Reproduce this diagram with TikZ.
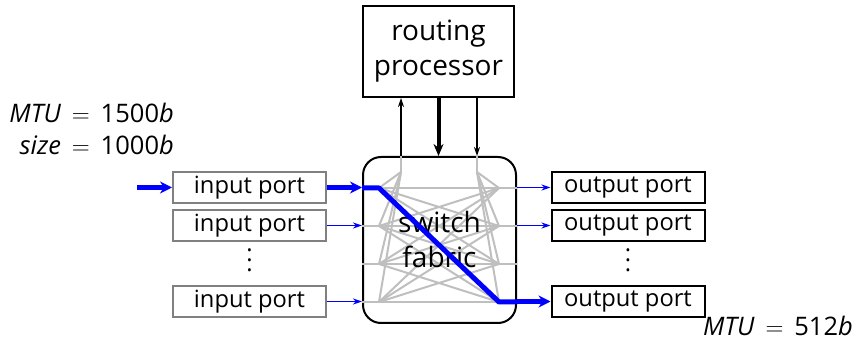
\documentclass[tikz,border=0pt]{standalone}
\usepackage{fontspec}
\setmainfont{Open Sans}
\usetikzlibrary{arrows.meta}

\begin{document}
\begin{tikzpicture}[x=1pt,y=1pt,
    inport/.style={draw=gray,line width=2pt,minimum width=153pt,minimum height=31pt,inner sep=0pt,font=\fontsize{23.7}{28}\selectfont},
    outport/.style={inport,draw=black},
    bigbox/.style={draw,line width=2pt,inner sep=0pt,font=\fontsize{28}{35}\selectfont,align=center},
    mesh/.style={gray!50,line width=2pt},
    vdotsnode/.style={font=\fontsize{23.7}{10}\selectfont,align=center,inner sep=0pt},
    thinblue/.style={blue,line width=1.5pt,-{Stealth[length=9pt,width=6pt]}},
    thickblue/.style={blue,line width=5pt,-{Stealth[length=12pt,width=12pt]}},
    ctrl/.style={line width=1.5pt,-{Stealth[length=9pt,width=6pt]}},
    mtu/.style={font=\fontsize{25.5}{32}\selectfont,inner sep=0pt}]
  \useasboundingbox (0,0) rectangle (856,342);
  % boxes
  \node[bigbox,minimum width=151pt,minimum height=91pt] (proc) at (438.5,290.5) {routing\\processor};
  \node[bigbox,rounded corners=18pt,minimum width=153pt,minimum height=166pt] (fab) at (439.5,102) {};
  \node[inport] (in1) at (249.5,154.5) {input port};
  \node[inport] (in2) at (249.5,116.5) {input port};
  \node[inport] (in4) at (249.5,40.5) {input port};
  \node[vdotsnode] (indots) at (249.5,82) {.\\.\\.};
  \node[outport] (out1) at (628,154.5) {output port};
  \node[outport] (out2) at (628,116.5) {output port};
  \node[outport] (out4) at (628,40.5) {output port};
  \node[vdotsnode] (outdots) at (628,82) {.\\.\\.};
  % inside the fabric
  \coordinate (t1) at (401,170);
  \coordinate (t2) at (477,170);
  \foreach \i/\y in {1/154,2/116,3/78,4/40} {
    \coordinate (l\i) at (379,\y);
    \coordinate (r\i) at (499,\y);
  }
  \draw[mesh] (t1) -- (fab.north -| t1);
  \draw[mesh] (t2) -- (fab.north -| t2);
  \foreach \i in {1,...,4} {
    \draw[mesh] (fab.west |- l\i) -- (l\i);
    \draw[mesh] (r\i) -- (fab.east |- r\i);
    \draw[mesh] (t1) -- (l\i);
    \draw[mesh] (t2) -- (r\i);
    \foreach \j in {1,...,4}
      \draw[mesh] (l\i) -- (r\j);
  }
  \node[font=\fontsize{28}{35}\selectfont,align=center] (fablabel) at (fab) {switch\\fabric};
  \draw[blue,line width=5pt,line join=round] (fab.west |- l1) -- (l1) -- (r4) -- (fab.east |- r4);
  % control lines
  \draw[ctrl] (fab.north -| t1) -- (proc.south -| t1);
  \draw[ctrl] (proc.south -| t2) -- (fab.north -| t2);
  \draw[line width=4pt,-{Stealth[length=12pt,width=10pt]}] (proc.south) -- (proc.south |- fab.north);
  % packet flow
  \coordinate (src) at (137,154.5);
  \draw[thickblue] (src) -- (in1);
  \draw[thickblue] (in1) -- (fab.west |- in1);
  \draw[thinblue] (in2) -- (fab.west |- in2);
  \draw[thinblue] (in4) -- (fab.west |- in4);
  \draw[thinblue] (fab.east |- out1) -- (out1);
  \draw[thinblue] (fab.east |- out2) -- (out2);
  \draw[thickblue] (fab.east |- out4) -- (out4);
  % sizes
  \node[mtu,anchor=base east] (mtuin) at (174,219) {\textit{MTU}\ \,$=$\ \,1500\textit{b}};
  \node[mtu,anchor=base east] (sizein) at (174,187) {\textit{size}\ \,$=$\ \,1000\textit{b}};
  \node[mtu,anchor=base east] (mtuout) at (853,6) {\textit{MTU}\ \,$=$\ \,512\textit{b}};
\end{tikzpicture}
\end{document}
